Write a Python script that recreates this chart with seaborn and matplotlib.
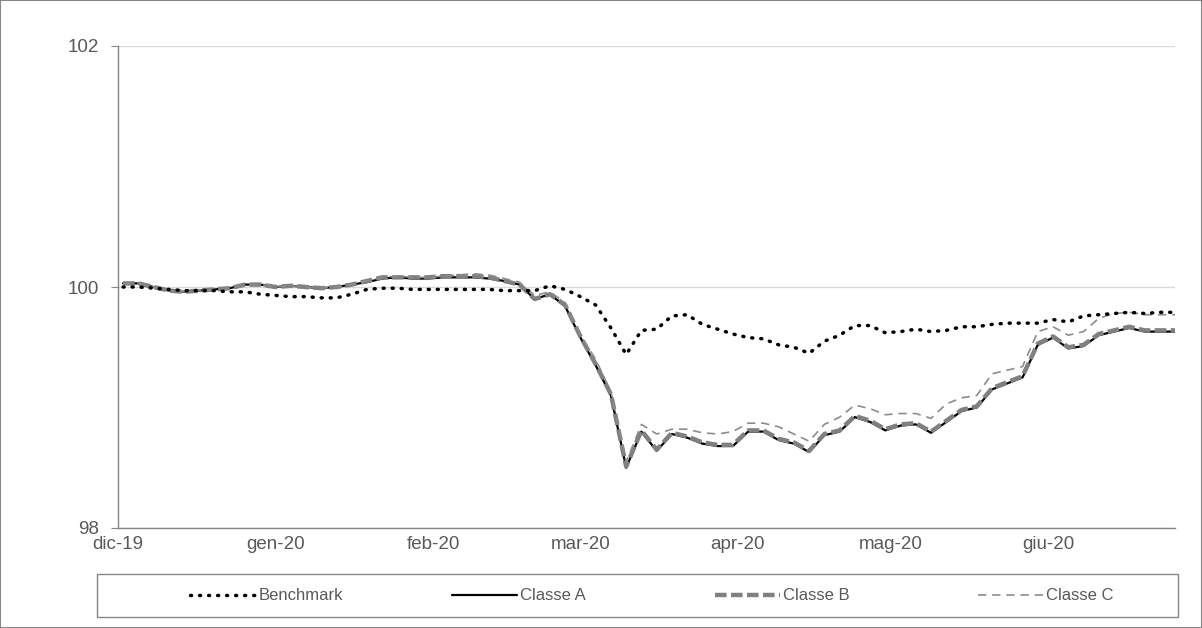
import pandas as pd
import numpy as np
import matplotlib
matplotlib.use('Agg')
import matplotlib.pyplot as plt
from matplotlib.patches import Rectangle
import seaborn as sns

# date di osservazione (ogni 3 giorni)
dates = pd.date_range('2019-12-02', '2020-06-26', freq='3D')

benchmark = [100.00, 100.00, 99.99, 99.98, 99.97, 99.97, 99.97, 99.96, 99.96, 99.94,
             99.93, 99.92, 99.92, 99.91, 99.91, 99.94, 99.98, 99.99, 99.99, 99.98,
             99.98, 99.98, 99.98, 99.98, 99.98, 99.97, 99.97, 99.97, 100.01, 99.98,
             99.92, 99.85, 99.66, 99.44, 99.64, 99.65, 99.76, 99.77, 99.69, 99.65,
             99.61, 99.58, 99.57, 99.52, 99.50, 99.45, 99.55, 99.60, 99.68, 99.68,
             99.62, 99.63, 99.65, 99.63, 99.64, 99.67, 99.67, 99.69, 99.70, 99.70,
             99.70, 99.73, 99.71, 99.76, 99.77, 99.78, 99.79, 99.78, 99.79, 99.79]

classe_a = [100.03, 100.03, 100.00, 99.97, 99.96, 99.97, 99.98, 99.99, 100.02, 100.02,
            100.00, 100.01, 100.00, 99.99, 100.00, 100.02, 100.04, 100.07, 100.08, 100.07,
            100.07, 100.08, 100.08, 100.08, 100.07, 100.05, 100.02, 99.90, 99.94, 99.84,
            99.58, 99.35, 99.10, 98.50, 98.80, 98.64, 98.78, 98.75, 98.70, 98.68,
            98.68, 98.80, 98.80, 98.73, 98.70, 98.63, 98.77, 98.80, 98.92, 98.88,
            98.81, 98.85, 98.86, 98.79, 98.88, 98.97, 99.00, 99.15, 99.20, 99.25,
            99.52, 99.58, 99.49, 99.51, 99.60, 99.63, 99.66, 99.63, 99.63, 99.63]

classe_b = [100.03, 100.03, 100.00, 99.97, 99.96, 99.97, 99.98, 99.99, 100.02, 100.02,
            100.00, 100.01, 100.00, 99.99, 100.00, 100.02, 100.05, 100.08, 100.08, 100.08,
            100.08, 100.09, 100.09, 100.09, 100.08, 100.05, 100.02, 99.90, 99.94, 99.85,
            99.59, 99.36, 99.11, 98.51, 98.81, 98.65, 98.79, 98.76, 98.71, 98.69,
            98.69, 98.81, 98.81, 98.74, 98.71, 98.64, 98.78, 98.81, 98.93, 98.89,
            98.82, 98.86, 98.87, 98.80, 98.89, 98.98, 99.01, 99.16, 99.21, 99.26,
            99.53, 99.59, 99.50, 99.52, 99.61, 99.64, 99.67, 99.64, 99.64, 99.64]

classe_c = [100.03, 100.03, 100.00, 99.97, 99.96, 99.97, 99.98, 99.99, 100.02, 100.02,
            100.00, 100.01, 100.00, 99.99, 100.00, 100.02, 100.05, 100.08, 100.09, 100.08,
            100.08, 100.09, 100.10, 100.11, 100.10, 100.07, 100.04, 99.93, 99.96, 99.87,
            99.60, 99.40, 99.13, 98.55, 98.86, 98.78, 98.82, 98.82, 98.79, 98.78,
            98.80, 98.87, 98.87, 98.84, 98.78, 98.72, 98.86, 98.92, 99.02, 98.99,
            98.94, 98.95, 98.95, 98.91, 99.03, 99.08, 99.10, 99.28, 99.31, 99.34,
            99.63, 99.67, 99.60, 99.63, 99.74, 99.78, 99.79, 99.77, 99.77, 99.77]

tick_dates = pd.to_datetime(['2019-12-01', '2020-01-01', '2020-02-01', '2020-03-01',
                             '2020-04-01', '2020-05-01', '2020-06-01'])
tick_labels = ['dic-19', 'gen-20', 'feb-20', 'mar-20', 'apr-20', 'mag-20', 'giu-20']

sns.set_style('white')
plt.rcParams['font.family'] = ['Liberation Sans', 'DejaVu Sans']

grey_txt = '#595959'
fig = plt.figure(figsize=(12.02, 6.28), dpi=100)
ax = fig.add_axes([118 / 1202, 1 - 528 / 628, (1175 - 118) / 1202, (528 - 46) / 628])

# serie
sns.lineplot(x=dates, y=benchmark, ax=ax, color='black', lw=2.5,
             linestyle=(0, (0.3, 2.3)), dash_capstyle='round', label='Benchmark', zorder=5)
sns.lineplot(x=dates, y=classe_a, ax=ax, color='black', lw=1.6, label='Classe A', zorder=3)
sns.lineplot(x=dates, y=classe_b, ax=ax, color='#808080', lw=3.2,
             linestyle=(0, (2.6, 1.0)), label='Classe B', zorder=4)
sns.lineplot(x=dates, y=classe_c, ax=ax, color='#8c8c8c', lw=1.2,
             linestyle=(0, (5, 3.5)), label='Classe C', zorder=4)

ax.set_ylim(98, 102)
ax.set_yticks([98, 100, 102])
ax.set_xlim(pd.Timestamp('2019-12-01'), dates[-1])
ax.set_xticks(tick_dates)
ax.set_xticklabels(tick_labels)
ax.set_xlabel('')
ax.set_ylabel('')
ax.grid(axis='y', color='#d9d9d9', lw=1)
ax.set_axisbelow(True)
for s in ['top', 'right']:
    ax.spines[s].set_visible(False)
for s in ['left', 'bottom']:
    ax.spines[s].set_color('#868686')
    ax.spines[s].set_linewidth(1)
ax.tick_params(axis='y', length=5, color='#868686', labelsize=13.5, labelcolor=grey_txt, pad=9, left=True)
ax.tick_params(axis='x', length=0, labelsize=13.5, labelcolor=grey_txt, pad=6)

# legenda: riquadro e voci a larghezza uguale
handles, labels = ax.get_legend_handles_labels()
ax.get_legend().remove()
fig.patches.append(Rectangle((97 / 1202, 1 - 617 / 628), 1081 / 1202, 43 / 628,
                             transform=fig.transFigure, fill=False, edgecolor='#868686', lw=1))
entry_x = [190, 452, 715, 978]
for h, lab, ex in zip(handles, labels, entry_x):
    fig.legend([h], [lab], loc='center left', bbox_to_anchor=(ex / 1202, 1 - 596 / 628),
               frameon=False, fontsize=12, handlelength=3.9, handletextpad=0.2,
               borderpad=0, borderaxespad=0, labelcolor=grey_txt)

# bordo esterno
fig.patches.append(Rectangle((0, 0), 1, 1, transform=fig.transFigure, fill=False,
                             edgecolor='#868686', lw=1.5))

plt.savefig('out.png', dpi=100)
